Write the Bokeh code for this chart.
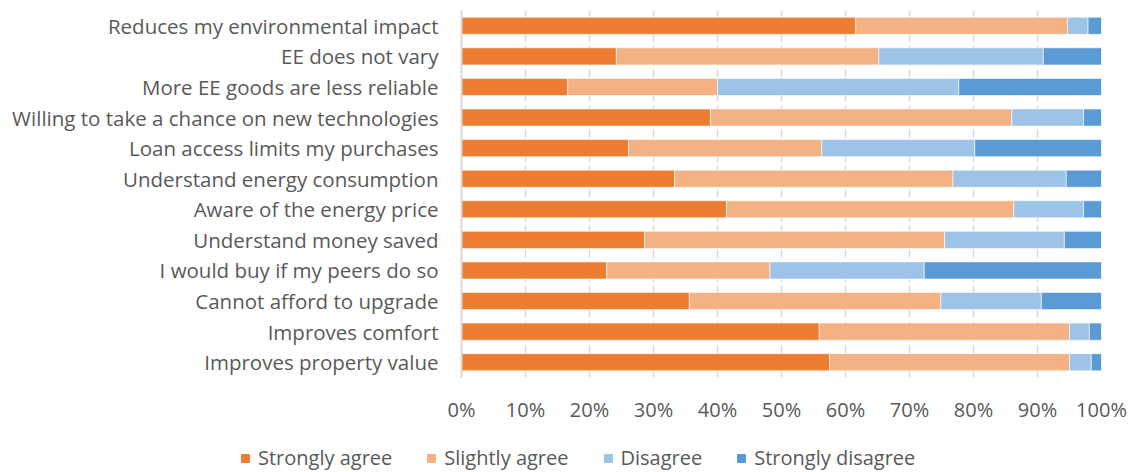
from bokeh.plotting import figure
from bokeh.layouts import column
from bokeh.models import FactorRange, Range1d, FixedTicker, Legend, LegendItem
from bokeh.embed import file_html
from bokeh.resources import INLINE

categories = [
    "Reduces my environmental impact",
    "EE does not vary",
    "More EE goods are less reliable",
    "Willing to take a chance on new technologies",
    "Loan access limits my purchases",
    "Understand energy consumption",
    "Aware of the energy price",
    "Understand money saved",
    "I would buy if my peers do so",
    "Cannot afford to upgrade",
    "Improves comfort",
    "Improves property value",
]
strongly_agree = [61.6, 24.2, 16.6, 38.9, 26.1, 33.3, 41.4, 28.6, 22.7, 35.6, 55.9, 57.5]
slightly_agree = [33.1, 41.0, 23.4, 47.1, 30.2, 43.5, 44.9, 46.9, 25.5, 39.3, 39.1, 37.5]
disagree = [3.2, 25.7, 37.7, 11.2, 23.9, 17.7, 10.9, 18.7, 24.1, 15.7, 3.1, 3.4]
strongly_disagree = [2.1, 9.1, 22.3, 2.8, 19.8, 5.5, 2.8, 5.8, 27.7, 9.4, 1.9, 1.6]
series = ["Strongly agree", "Slightly agree", "Disagree", "Strongly disagree"]
colors = ["#ED7D31", "#F4B183", "#9DC3E6", "#5B9BD5"]
ticks = [0, 10, 20, 30, 40, 50, 60, 70, 80, 90, 100]
tick_labels = [f"{t}%" for t in ticks]

FONT = "Open Sans"
TXT = "#595959"

data = {"cat": categories,
        "Strongly agree": strongly_agree,
        "Slightly agree": slightly_agree,
        "Disagree": disagree,
        "Strongly disagree": strongly_disagree}

p = figure(width=1134, height=435, output_backend="svg", toolbar_location=None,
           y_range=FactorRange(*reversed(categories)), x_range=Range1d(0, 100),
           min_border_left=461, min_border_right=33, min_border_top=10, min_border_bottom=58)
p.y_range.range_padding = 0
p.outline_line_color = None

renderers = p.hbar_stack(series, y="cat", height=0.56, color=colors, source=data,
                         line_color="white", line_width=0.6)

p.xaxis.ticker = FixedTicker(ticks=ticks)
p.xaxis.major_label_overrides = {t: l for t, l in zip(ticks, tick_labels)}
p.xaxis.axis_line_color = None
p.xaxis.major_tick_line_color = None
p.xaxis.minor_tick_line_color = None
p.xaxis.major_label_standoff = 12
p.xaxis.major_label_text_font = FONT
p.xaxis.major_label_text_font_size = "20px"
p.xaxis.major_label_text_color = TXT

p.yaxis.axis_line_color = "#D9D9D9"
p.yaxis.axis_line_width = 2
p.yaxis.major_tick_line_color = None
p.yaxis.minor_tick_line_color = None
p.yaxis.major_label_standoff = 17
p.yaxis.major_label_text_font = FONT
p.yaxis.major_label_text_font_size = "20.5px"
p.yaxis.major_label_text_color = TXT

p.ygrid.grid_line_color = None
p.xgrid.grid_line_color = "#D9D9D9"
p.xgrid.grid_line_width = 1.5
p.xgrid.grid_line_dash = "8 4"

# legend panel (separate strip so the legend can sit under the whole chart)
lg = figure(width=1134, height=37, output_backend="svg", toolbar_location=None,
            x_range=Range1d(0, 1), y_range=Range1d(0, 1), min_border=0)
lg.frame_align = False
lg.axis.visible = False
lg.grid.visible = False
lg.outline_line_color = None
lg_renderers = [lg.hbar(y=[0.5], left=[0], right=[0], height=0, color=c) for c in colors]
legend = Legend(items=[LegendItem(label=s, renderers=[r]) for s, r in zip(series, lg_renderers)],
                orientation="horizontal", location=(240, 1),
                border_line_color=None, background_fill_alpha=0, padding=0, margin=0,
                glyph_width=10, glyph_height=10, label_standoff=8, spacing=34,
                label_text_font=FONT, label_text_font_size="20px", label_text_color=TXT)
lg.add_layout(legend, "center")

layout = column(p, lg, spacing=0)
open("out.html", "w").write(file_html(layout, INLINE))
